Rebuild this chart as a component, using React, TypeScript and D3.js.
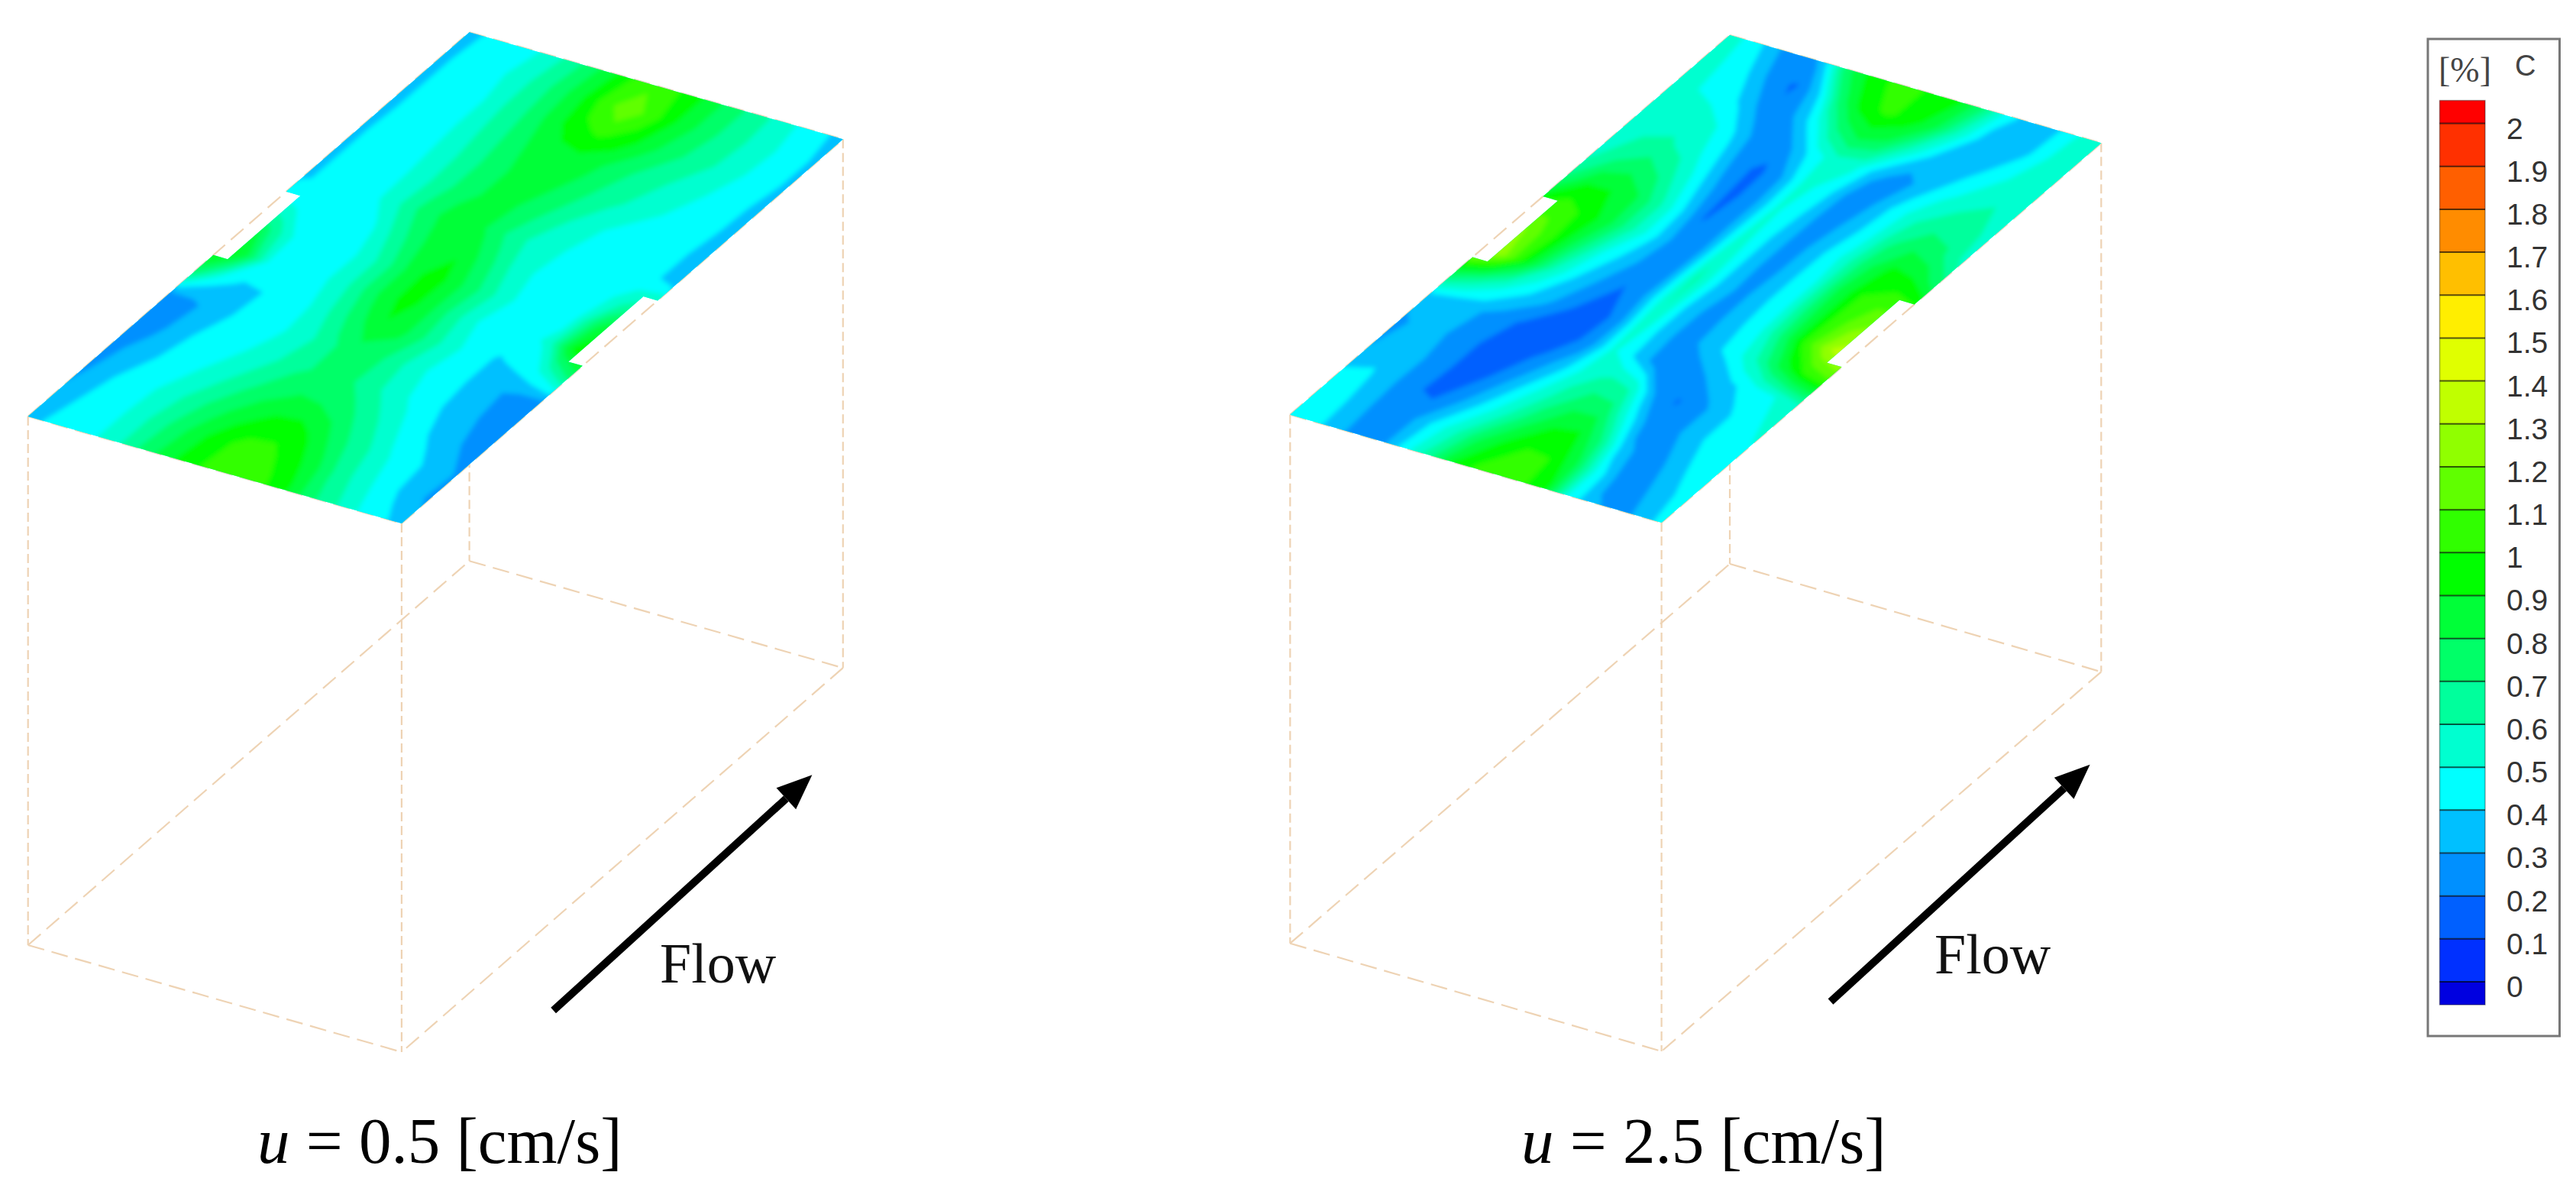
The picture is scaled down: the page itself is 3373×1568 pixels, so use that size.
import React from "react";
import * as d3 from "d3";

const W = 3373, H = 1568;
const levels = d3.range(0, 21).map((i) => i / 10);
const legendLabels = ["2","1.9","1.8","1.7","1.6","1.5","1.4","1.3","1.2","1.1","1","0.9","0.8","0.7","0.6","0.5","0.4","0.3","0.2","0.1","0"];
// band colours, lowest (below 0) to highest (above 2)
const bandColors = ["#0000e0","#0030ff","#0060ff","#0090ff","#00c0ff","#00ffff","#00ffd0","#00ff9c","#00ff68","#00ff38","#00ff00","#30ff00","#60ff00","#90ff00","#c0ff00","#e0ff00","#ffee00","#ffbf00","#ff8c00","#ff5f00","#ff3000","#ff0000"];

const NU = 17, NV = 17;
// rows from front edge (v=0) to back edge (v=1); columns from u=0 to u=1
const panelA = [
[.36,.42,.45,.50,.60,.74,.86,.98,1.03,1.05,1.02,.92,.74,.63,.51,.43,.36],
[.33,.40,.45,.50,.60,.72,.84,.96,1.03,1.03,.96,.85,.68,.56,.46,.37,.28],
[.28,.38,.44,.49,.57,.67,.77,.86,.93,.95,.87,.73,.63,.51,.44,.36,.29],
[.26,.33,.40,.46,.51,.59,.68,.76,.81,.80,.74,.65,.54,.44,.37,.30,.24],
[.20,.28,.38,.44,.47,.52,.60,.68,.73,.72,.64,.54,.47,.40,.34,.27,.22],
[.20,.27,.34,.41,.45,.49,.56,.67,.76,.74,.62,.51,.45,.39,.32,.27,.24],
[.72,.45,.38,.40,.44,.50,.62,.76,.88,.82,.68,.54,.45,.39,.42,.52,.70],
[1.0,.85,.50,.45,.47,.52,.68,.84,.95,.82,.64,.50,.45,.45,.52,.90,1.05],
[.95,.68,.48,.44,.45,.53,.68,.85,.96,.82,.68,.53,.45,.44,.48,.78,.95],
[.55,.48,.44,.44,.47,.62,.76,.88,.88,.75,.60,.50,.45,.44,.45,.56,.68],
[.38,.44,.45,.47,.58,.72,.82,.87,.78,.65,.56,.51,.46,.44,.44,.42,.34],
[.38,.44,.45,.48,.57,.68,.78,.83,.80,.72,.62,.54,.48,.45,.44,.42,.34],
[.38,.44,.45,.49,.58,.68,.78,.83,.84,.78,.69,.62,.56,.50,.46,.43,.36],
[.37,.44,.45,.50,.60,.70,.80,.85,.87,.82,.74,.66,.60,.54,.48,.43,.37],
[.37,.44,.45,.50,.62,.72,.86,.97,1.02,.96,.84,.74,.66,.59,.51,.45,.38],
[.37,.44,.45,.52,.62,.74,.88,1.05,1.18,1.05,.90,.78,.68,.60,.52,.45,.38],
[.36,.43,.45,.50,.60,.72,.86,1.00,1.06,1.00,.90,.78,.68,.59,.50,.43,.36],
];
const panelB = [
[.47,.44,.34,.24,.27,.46,.66,.90,1.02,1.04,1.02,.92,.48,.32,.27,.31,.44],
[.44,.43,.33,.22,.27,.42,.58,.78,.93,1.01,1.00,.84,.48,.26,.27,.36,.46],
[.40,.41,.32,.21,.18,.29,.44,.60,.77,.90,.92,.70,.35,.23,.31,.42,.47],
[.30,.37,.32,.23,.16,.20,.33,.49,.64,.76,.76,.47,.23,.27,.38,.45,.49],
[.28,.33,.30,.23,.16,.14,.23,.37,.55,.63,.58,.29,.19,.27,.38,.46,.53],
[.35,.32,.32,.26,.19,.14,.14,.25,.52,.38,.23,.20,.30,.38,.44,.50,.60],
[.80,.66,.53,.42,.33,.21,.14,.23,.56,.34,.24,.36,.44,.60,.82,1.00,1.08],
[1.35,1.20,.90,.60,.41,.29,.19,.30,.60,.33,.26,.37,.48,.74,1.05,1.30,1.40],
[1.30,1.15,.98,.74,.50,.36,.24,.27,.62,.38,.26,.38,.50,.78,1.02,1.17,1.25],
[1.00,1.06,.98,.85,.63,.43,.25,.25,.58,.38,.24,.38,.50,.80,1.00,1.07,1.05],
[.72,.90,.90,.82,.63,.41,.19,.27,.54,.38,.24,.37,.52,.76,.93,.90,.75],
[.58,.70,.76,.68,.52,.33,.17,.27,.52,.40,.23,.33,.47,.68,.78,.72,.57],
[.54,.60,.62,.56,.44,.26,.17,.30,.54,.44,.23,.30,.45,.58,.65,.65,.56],
[.52,.55,.55,.50,.37,.21,.26,.42,.55,.52,.33,.25,.35,.47,.55,.60,.58],
[.52,.50,.47,.37,.23,.28,.45,.70,.83,.78,.58,.40,.31,.37,.47,.55,.57],
[.54,.49,.40,.26,.18,.37,.75,.96,1.02,.96,.83,.58,.37,.33,.38,.52,.55],
[.55,.46,.32,.20,.33,.75,.93,1.01,1.02,.96,.90,.70,.44,.34,.37,.50,.52],
];

type Pt = [number, number];
const panels = [
  { name: "a", values: panelA, L: [36.7, 545] as Pt, T: [614.6, 42.2] as Pt, B: [525.9, 685] as Pt, drop: 692, notchL: [.42, .585], notchR: [.41, .58], depth: .038, arrow: [[724.6, 1322.5], [1063.4, 1014.3]], flow: [864, 1286], caption: [337, 1522], speed: "0.5" },
  { name: "b", values: panelB, L: [1689.3, 542.7] as Pt, T: [2265, 46] as Pt, B: [2175.6, 684] as Pt, drop: 692, notchL: [.415, .575], notchR: [.41, .575], depth: .04, arrow: [[2397, 1311], [2736.6, 1000.7]], flow: [2533, 1274], caption: [1992, 1522], speed: "2.5" },
];

function Panel({ p }: { p: (typeof panels)[number] }) {
  const { L, T, B, drop } = p;
  const R: Pt = [T[0] + B[0] - L[0], T[1] + B[1] - L[1]];
  const proj = (u: number, v: number): Pt => [
    L[0] + u * (B[0] - L[0]) + v * (T[0] - L[0]),
    L[1] + u * (B[1] - L[1]) + v * (T[1] - L[1]),
  ];
  const flat = p.values.flat();
  const gen = d3.contours().size([NU, NV]).thresholds(levels);
  const bands = gen(flat);
  const toPath = (mp: d3.ContourMultiPolygon) =>
    mp.coordinates
      .map((poly) =>
        poly
          .map((ring) =>
            "M" +
            ring
              .map(([gx, gy]) => {
                // grid samples sit at half-integers in d3.contours output
                const u = (gx - 0.5) / (NU - 1);
                const v = (gy - 0.5) / (NV - 1);
                return proj(u, v).map((n) => n.toFixed(1)).join(",");
              })
              .join("L") +
            "Z"
          )
          .join("")
      )
      .join("");
  const ring = (pts: Pt[]) => "M" + pts.map((q) => q.join(",")).join("L") + "Z";
  const outline = ring([
    proj(0, 0), proj(0, p.notchL[0]), proj(p.depth, p.notchL[0]), proj(p.depth, p.notchL[1]), proj(0, p.notchL[1]),
    proj(0, 1), proj(1, 1), proj(1, p.notchR[1]), proj(1 - p.depth, p.notchR[1]), proj(1 - p.depth, p.notchR[0]), proj(1, p.notchR[0]), proj(1, 0),
  ]);
  const lower = (q: Pt): Pt => [q[0], q[1] + drop];
  const dash = "#eed3b4";
  const diag: Pt[][] = [
    [L, T], [T, R], [B, R], [L, B],
    [lower(L), lower(T)], [lower(T), lower(R)], [lower(R), lower(B)], [lower(L), lower(B)],
  ];
  const vert: Pt[][] = [[L, lower(L)], [B, lower(B)], [T, lower(T)], [R, lower(R)]];
  const [a0, a1] = p.arrow;
  const ang = Math.atan2(a1[1] - a0[1], a1[0] - a0[0]);
  const head = 46;
  const hw = 19;
  const bx = a1[0] - head * Math.cos(ang), by = a1[1] - head * Math.sin(ang);
  const nx = -Math.sin(ang), ny = Math.cos(ang);
  const line = d3.line();
  return (
    <g>
      {diag.map((s, i) => (
        <path key={i} d={line(s) as string} fill="none" stroke={dash} strokeWidth={2.2} strokeDasharray="22 10" />
      ))}
      {vert.map((s, i) => (
        <path key={i} d={line(s) as string} fill="none" stroke={dash} strokeWidth={2.2} strokeDasharray="12 6" />
      ))}
      <clipPath id={"clip-" + p.name}><path d={outline} /></clipPath>
      <path d={outline} fill={bandColors[5]} />
      <g clipPath={`url(#clip-${p.name})`}>
        <g filter="url(#soft)">
          {bands.map((b, i) => (
            <path key={i} d={toPath(b)} fill={bandColors[i + 1]} stroke={bandColors[i + 1]} strokeWidth={0.8} />
          ))}
        </g>
      </g>
      <path d={line([a0 as Pt, [bx, by]]) as string} stroke="#000" strokeWidth={10} fill="none" />
      <path d={ring([a1 as Pt, [bx + nx * hw, by + ny * hw], [bx - nx * hw, by - ny * hw]])} fill="#000" />
      <text x={p.flow[0]} y={p.flow[1]} fontFamily="'Liberation Serif'" fontSize={74} fill="#111">Flow</text>
      <text x={p.caption[0]} y={p.caption[1]} fontFamily="'Liberation Serif'" fontSize={85} fill="#000">
        <tspan fontStyle="italic">u</tspan>
        {` = ${p.speed} [cm/s]`}
      </text>
    </g>
  );
}

function Legend() {
  const y = d3.scaleLinear().domain([0, 2]).range([1285, 161.6]);
  const x0 = 3194.5, x1 = 3254;
  const step = y(0) - y(0.1);
  const rects = bandColors.map((c, i) => {
    const top = i === bandColors.length - 1 ? y(2) - step / 2 - 2 : y((i) / 10);
    const bottom = i === 0 ? y(0) + step / 2 + 2 : y((i - 1) / 10);
    return { c, top, bottom };
  });
  return (
    <g>
      <rect x={3179} y={51} width={172.5} height={1305} fill="#fff" stroke="#777" strokeWidth={3} />
      {rects.map((r, i) => (
        <rect key={i} x={x0} y={r.top} width={x1 - x0} height={r.bottom - r.top} fill={r.c} />
      ))}
      {levels.map((l, i) => (
        <line key={i} x1={x0} x2={x1} y1={y(l)} y2={y(l)} stroke="#000" strokeOpacity={0.65} strokeWidth={2} />
      ))}
      <rect x={x0} y={y(2) - step / 2 - 2} width={x1 - x0} height={y(0) - y(2) + step + 4} fill="none" stroke="#000" strokeOpacity={0.35} strokeWidth={1.5} />
      {legendLabels.map((t) => (
        <text key={t} x={3282} y={y(+t) + 20} fontFamily="'Liberation Sans'" fontSize={39} fill="#333">{t}</text>
      ))}
      <text x={3193} y={107} fontFamily="'Liberation Serif'" fontSize={46} fill="#444">[%]</text>
      <text x={3293} y={99} fontFamily="'Liberation Sans'" fontSize={38} fill="#444">C</text>
    </g>
  );
}

export default function App() {
  return (
    <svg width={W} height={H} viewBox={`0 0 ${W} ${H}`} style={{ position: "absolute", left: 0, top: 0, background: "#fff" }}>
      <defs>
        <filter id="soft" x="-5%" y="-5%" width="110%" height="110%">
          <feGaussianBlur stdDeviation={3} />
        </filter>
      </defs>
      {panels.map((p) => <Panel key={p.name} p={p} />)}
      <Legend />
    </svg>
  );
}
